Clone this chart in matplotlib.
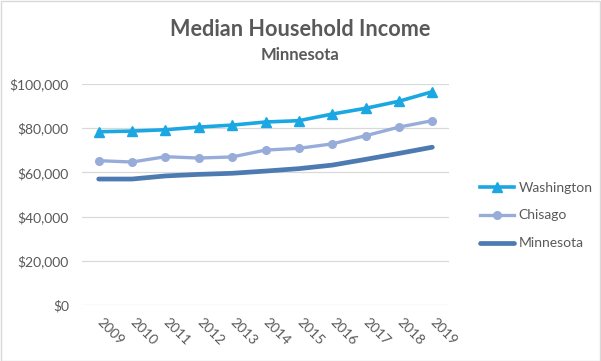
import matplotlib
matplotlib.use("Agg")
import matplotlib.pyplot as plt
from matplotlib.patches import Rectangle
from matplotlib.ticker import FuncFormatter

years = ["2009", "2010", "2011", "2012", "2013", "2014", "2015", "2016", "2017", "2018", "2019"]
washington = [78400, 78700, 79300, 80500, 81400, 82800, 83400, 86400, 89000, 92200, 96500]
chisago = [65300, 64700, 67100, 66500, 67000, 70100, 70900, 72900, 76600, 80500, 83400]
minnesota = [57000, 57000, 58400, 59100, 59600, 60600, 61700, 63300, 65900, 68600, 71400]
series_names = ["Washington", "Chisago", "Minnesota"]

plt.rcParams['font.family'] = ['Lato', 'DejaVu Sans']
txt = '#595959'

fig = plt.figure(figsize=(6.01, 3.61), dpi=100)
fig.patches.append(Rectangle((0.001, 0.001), 0.997, 0.996, transform=fig.transFigure,
                             fill=False, edgecolor='#D9D9D9', linewidth=1))
ax = fig.add_axes([82/601, 1-305/361, (449-82)/601, (305-84)/361])
x = list(range(len(years)))
ax.plot(x, washington, color='#1BA8E2', lw=2.6, marker='^', ms=7, label=series_names[0], zorder=3)
ax.plot(x, chisago, color='#98ACDA', lw=2.4, marker='o', ms=5.5, label=series_names[1], zorder=3)
ax.plot(x, minnesota, color='#4E7AB2', lw=3.4, solid_capstyle='round', label=series_names[2], zorder=3)

ax.set_xlim(-0.5, len(years)-0.5)
ax.set_ylim(0, 100000)
ax.set_yticks(range(0, 100001, 20000))
ax.yaxis.set_major_formatter(FuncFormatter(lambda v, p: f"${v:,.0f}"))
ax.set_xticks(x)
ax.set_xticklabels(years, rotation=-45, ha='left', va='center', rotation_mode='anchor')
ax.tick_params(axis='both', length=0, colors=txt, labelsize=10)
ax.tick_params(axis='y', pad=9.5)
ax.tick_params(axis='x', pad=11)
for s in ax.spines.values():
    s.set_visible(False)
ax.grid(axis='y', color='#D9D9D9', lw=0.9)
ax.set_axisbelow(True)

fig.text(0.5, 1-30/361, "Median Household Income", ha='center', va='center',
         fontsize=15.6, fontweight='bold', color=txt)
fig.text(0.5, 1-55/361, "Minnesota", ha='center', va='center',
         fontsize=12, fontweight='bold', color=txt)

leg = fig.legend(loc='upper left', bbox_to_anchor=(467/601, 1-169/361), frameon=False,
                 fontsize=10, labelcolor=txt, handlelength=2.5, handletextpad=0.3,
                 labelspacing=1.15)

fig.savefig("out.png", dpi=100)
